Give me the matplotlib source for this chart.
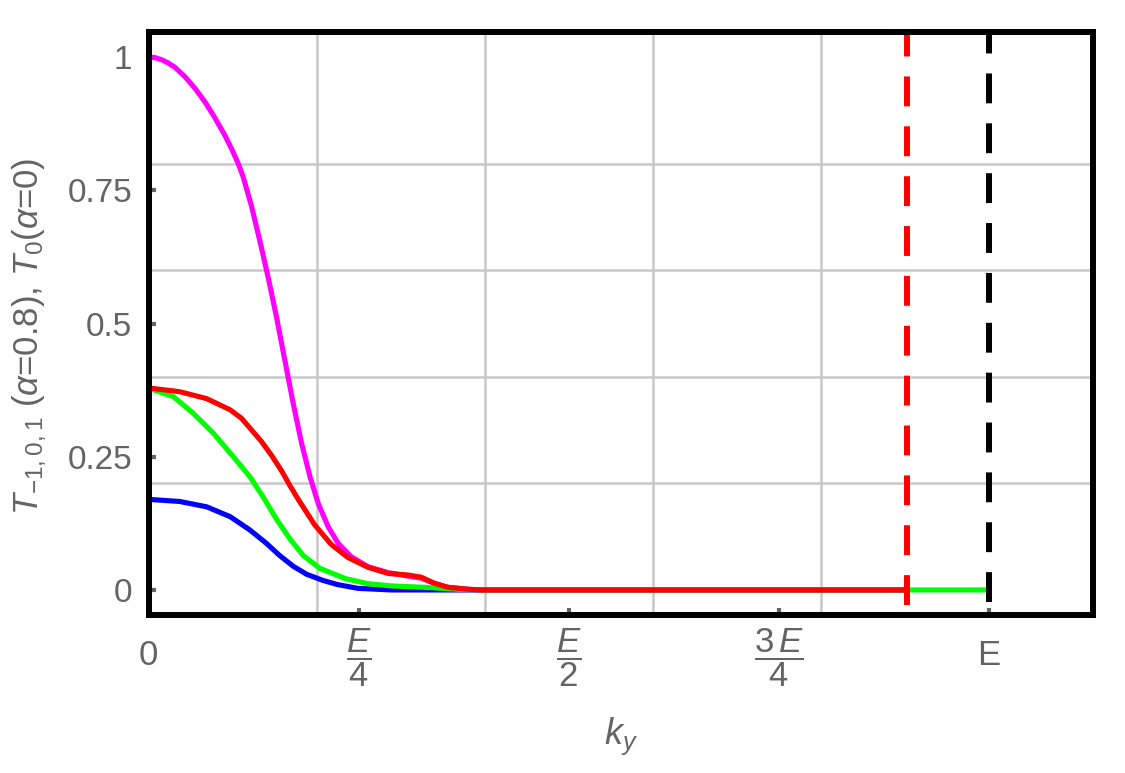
import matplotlib
matplotlib.use("Agg")
import matplotlib.pyplot as plt
from matplotlib.font_manager import FontProperties

plt.rcParams['font.family'] = ['Liberation Sans', 'DejaVu Sans']
plt.rcParams['mathtext.fontset'] = 'custom'
plt.rcParams['mathtext.rm'] = 'Liberation Sans'
plt.rcParams['mathtext.it'] = 'Liberation Sans:italic'
plt.rcParams['mathtext.bf'] = 'Liberation Sans:bold'

# ---- data (x in units of E) ----
magenta_x = [0.0, 0.008, 0.0154, 0.023, 0.031, 0.0432, 0.0547, 0.0669, 0.0784, 0.0907, 0.0986,
             0.1066, 0.1125, 0.1224, 0.132, 0.142, 0.152, 0.162, 0.172, 0.182, 0.192, 0.2017,
             0.2135, 0.2254, 0.241, 0.261, 0.285, 0.3086, 0.3244, 0.340, 0.356, 0.380,
             0.396, 0.9025]
magenta_y = [1.0, 0.9987, 0.995, 0.989, 0.981, 0.963, 0.942, 0.916, 0.887, 0.853, 0.828,
             0.800, 0.775, 0.720, 0.657, 0.588, 0.513, 0.4315, 0.350, 0.275, 0.2125, 0.1626,
             0.119, 0.0876, 0.0625, 0.0437, 0.0325, 0.026, 0.022, 0.0125, 0.005, 0.0013,
             0.0, 0.0]

red_x = [0.0, 0.037, 0.069, 0.097, 0.1105, 0.122, 0.134, 0.146, 0.158, 0.168, 0.178,
         0.1976, 0.2175, 0.237, 0.261, 0.285, 0.3086, 0.3244, 0.340, 0.356, 0.380, 0.396, 0.9025]
red_y = [0.379, 0.372, 0.359, 0.338, 0.322, 0.301, 0.279, 0.253, 0.224, 0.196, 0.170,
         0.122, 0.085, 0.061, 0.0425, 0.031, 0.028, 0.024, 0.0125, 0.005, 0.0013, 0.0, 0.0]

green_x = [0.0, 0.0293, 0.053, 0.077, 0.1007, 0.1204, 0.136, 0.152, 0.168, 0.184, 0.2036,
           0.2234, 0.235, 0.26, 0.289, 0.328, 0.368, 0.40, 1.0]
green_y = [0.3785, 0.363, 0.3315, 0.294, 0.250, 0.2125, 0.175, 0.133, 0.096, 0.0645, 0.0407,
           0.028, 0.021, 0.012, 0.0075, 0.005, 0.0013, 0.0, 0.0]

blue_x = [0.0, 0.037, 0.069, 0.097, 0.1204, 0.140, 0.156, 0.172, 0.188, 0.2076, 0.225,
          0.249, 0.289, 0.9025]
blue_y = [0.170, 0.166, 0.156, 0.1375, 0.1126, 0.0876, 0.0645, 0.0445, 0.0294, 0.0178, 0.010,
          0.003, 0.0, 0.0]

red_cutoff = 0.9025
black_cutoff = 1.0

x_ticks = [0, 0.25, 0.5, 0.75, 1.0]
x_ticklabels = ['0', r'$\dfrac{E}{4}$', r'$\dfrac{E}{2}$', r'$\dfrac{3\,E}{4}$', 'E']
y_ticks = [0, 0.25, 0.5, 0.75, 1.0]
y_ticklabels = ['0', '0.25', '0.5', '0.75', '1']
x_grid = [0.2, 0.4, 0.6, 0.8, 1.0]
y_grid = [0.0, 0.2, 0.4, 0.6, 0.8, 1.0]

gray = '#646464'

fig = plt.figure(figsize=(11.25, 7.73), dpi=100)
ax = fig.add_axes([148.7/1125, 1-615/773, (1093-148.7)/1125, (615-32)/773])
ax.set_xlim(0, 1.124)
ax.set_ylim(-0.047, 1.047)

ax.set_xticks(x_grid, minor=True)
ax.set_yticks(y_grid, minor=True)
ax.grid(which='minor', color='#c8c8c8', linewidth=1.8)
ax.tick_params(which='minor', length=0)
ax.set_axisbelow(True)

lw = 3.7
ax.plot(blue_x, blue_y, color='#0000ff', lw=lw, solid_capstyle='butt')
ax.plot(magenta_x, magenta_y, color='#ff00ff', lw=lw, solid_capstyle='butt')
ax.plot(green_x, green_y, color='#00ff00', lw=lw, solid_capstyle='butt')
ax.plot(red_x, red_y, color='#ff0000', lw=lw, solid_capstyle='butt')

dlw = 4.3
ax.plot([red_cutoff, red_cutoff], [-0.028, 1.047], color='#ff0000', lw=dlw,
        linestyle=(0, (5.0, 3.35)), dash_capstyle='butt')
ax.plot([black_cutoff, black_cutoff], [-0.0225, 1.047], color='black', lw=dlw,
        linestyle=(0, (5.0, 3.35)), dash_capstyle='butt')

for s in ax.spines.values():
    s.set_linewidth(4.3)
    s.set_color('black')

ax.set_xticks(x_ticks)
ax.set_xticklabels(x_ticklabels)
ax.set_yticks(y_ticks)
ax.set_yticklabels(y_ticklabels)
ax.tick_params(which='major', direction='in', length=5, width=3, color=gray,
               labelcolor=gray, labelsize=24)
ax.tick_params(axis='x', pad=8)
ax.tick_params(axis='y', pad=12)
for lab in ax.get_xticklabels():
    if lab.get_text() in ('0', 'E'):
        lab.set_fontproperties(FontProperties(family=['Liberation Sans'], size=25))
        lab.set_y(-0.022)
    else:
        lab.set_fontproperties(FontProperties(family=['Liberation Sans'], size=25))

ax.set_xlabel(r'$k_y$', fontsize=26, color=gray, labelpad=19)
ax.set_ylabel(r'$T_{-1,0,1}$ ($\alpha$=0.8), $T_0$($\alpha$=0)', fontsize=25, color=gray)
ax.yaxis.set_label_coords(-0.106, 0.478)

fig.savefig('out.png', dpi=100)
